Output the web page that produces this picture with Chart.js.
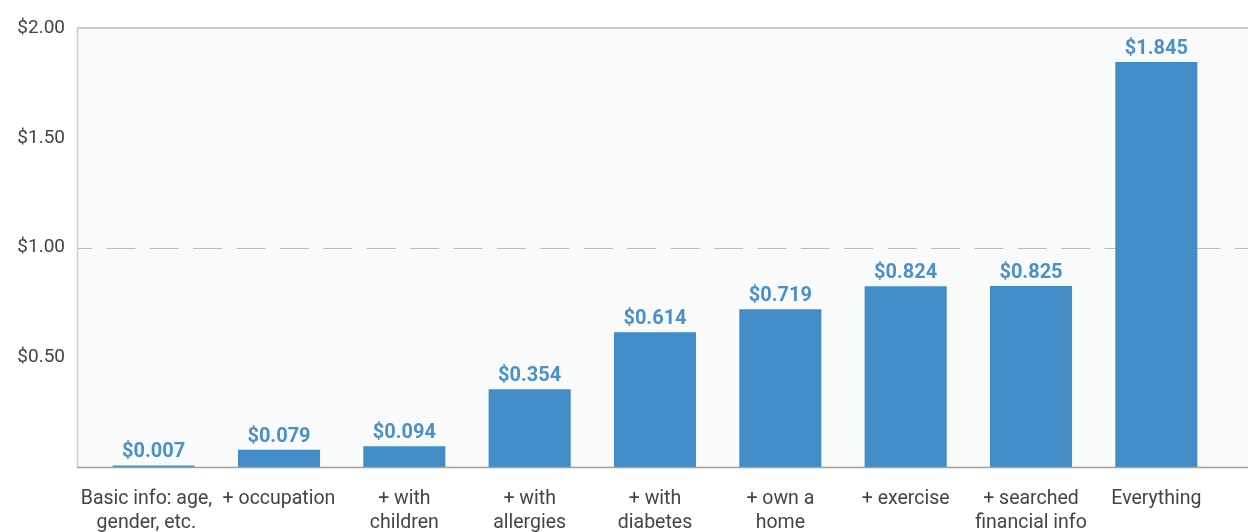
<!DOCTYPE html>
<html>
<head>
<meta charset="utf-8">
<script src="https://cdn.jsdelivr.net/npm/chart.js@4"></script>
<style>
  html, body { margin: 0; padding: 0; background: #fff; }
  #wrap { width: 1248px; height: 532px; }
</style>
</head>
<body>
<div id="wrap"><canvas id="myChart" width="1248" height="532"></canvas></div>
<script>
// trailing spaces nudge the first label left, as in the original
const categories = [
    ['Basic info: age,   ', 'gender, etc.   '],
    '+ occupation',
    ['+ with', 'children'],
    ['+ with', 'allergies'],
    ['+ with', 'diabetes'],
    ['+ own a', 'home'],
    '+ exercise',
    ['+ searched', 'financial info'],
    'Everything'
];
const values = [0.007, 0.079, 0.094, 0.354, 0.614, 0.719, 0.824, 0.825, 1.845];
const tickValues = [0.5, 1.0, 1.5, 2.0];

const barColor = '#428dc7';

// background panel, borders and the dashed $1.00 line
const panel = {
    id: 'panel',
    beforeDatasetsDraw(chart) {
        const ctx = chart.ctx;
        const area = chart.chartArea;
        const y = chart.scales.y;
        const left = 77, right = chart.width;
        ctx.save();
        ctx.fillStyle = '#f9fafa';
        ctx.fillRect(left, area.top, right - left, area.bottom - area.top);

        ctx.lineWidth = 1;
        ctx.strokeStyle = '#bcbcbc';
        ctx.setLineDash([29, 14.4]);
        ctx.lineDashOffset = 14;
        const y1 = Math.round(y.getPixelForValue(1)) + 0.5;
        ctx.beginPath();
        ctx.moveTo(left, y1);
        ctx.lineTo(right, y1);
        ctx.stroke();
        ctx.setLineDash([]);

        ctx.strokeStyle = '#cccccc';
        ctx.lineWidth = 2;
        ctx.beginPath();
        ctx.moveTo(left, area.top);
        ctx.lineTo(right, area.top);
        ctx.stroke();
        ctx.lineWidth = 1.5;
        ctx.beginPath();
        ctx.moveTo(left + 0.5, area.top);
        ctx.lineTo(left + 0.5, area.bottom);
        ctx.stroke();
        ctx.restore();
    },
    afterDatasetsDraw(chart) {
        const ctx = chart.ctx;
        const area = chart.chartArea;
        ctx.save();
        ctx.strokeStyle = '#a0a0a0';
        ctx.lineWidth = 1.5;
        ctx.beginPath();
        ctx.moveTo(77, area.bottom + 0.5);
        ctx.lineTo(chart.width, area.bottom + 0.5);
        ctx.stroke();

        // value labels above bars
        ctx.fillStyle = '#4a91cb';
        ctx.font = 'bold 20px Roboto';
        ctx.textAlign = 'center';
        ctx.textBaseline = 'alphabetic';
        chart.getDatasetMeta(0).data.forEach((bar, i) => {
            ctx.fillText('$' + values[i].toFixed(3), bar.x, bar.y - 8);
        });
        ctx.restore();
    }
};

const ctx = document.getElementById('myChart').getContext('2d');
new Chart(ctx, {
    type: 'bar',
    data: {
        labels: categories,
        datasets: [{
            data: values,
            backgroundColor: barColor,
            borderWidth: 0,
            barPercentage: 0.655,
            categoryPercentage: 1.0
        }]
    },
    options: {
        responsive: false,
        animation: false,
        layout: { padding: { top: 28, right: 29, bottom: 0, left: 0 } },
        plugins: {
            legend: { display: false },
            tooltip: { enabled: false }
        },
        scales: {
            x: {
                afterFit(scale) { scale.height = 65; },
                grid: { display: false, drawTicks: false },
                border: { display: false },
                ticks: {
                    color: '#444',
                    font: { family: 'Roboto', size: 19.5, lineHeight: 1.23 },
                    padding: 20,
                    maxRotation: 0,
                    autoSkip: false
                }
            },
            y: {
                min: 0,
                max: 2,
                afterFit(scale) {
                    scale.width = 91;
                    scale.paddingTop = 0;
                    scale.paddingBottom = 0;
                },
                afterBuildTicks(scale) {
                    scale.ticks = tickValues.map(v => ({ value: v }));
                },
                grid: { display: false, drawTicks: false },
                border: { display: false },
                ticks: {
                    color: '#444',
                    font: { family: 'Roboto', size: 19 },
                    padding: 26,
                    callback: v => '$' + Number(v).toFixed(2)
                }
            }
        }
    },
    plugins: [panel]
});
</script>
</body>
</html>
